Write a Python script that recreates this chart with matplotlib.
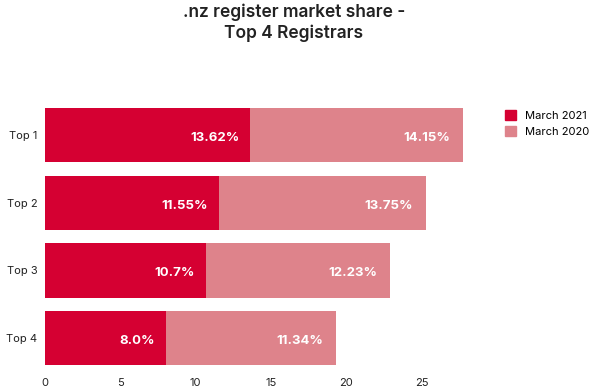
import matplotlib
matplotlib.use("Agg")
import matplotlib.pyplot as plt
from matplotlib.patches import Patch

plt.rcParams['font.family'] = ['Inter', 'DejaVu Sans']

categories = ["Top 1", "Top 2", "Top 3", "Top 4"]
march_2021 = [13.62, 11.55, 10.7, 8.0]
march_2020 = [14.15, 13.75, 12.23, 11.34]
labels_2021 = ["13.62%", "11.55%", "10.7%", "8.0%"]
labels_2020 = ["14.15%", "13.75%", "12.23%", "11.34%"]
xticks = [0, 5, 10, 15, 20, 25]

c2021 = "#D50032"
c2020 = "#DE838B"

fig = plt.figure(figsize=(6, 3.92), dpi=100)
ax = fig.add_axes([0.075, 0.051, 0.703, 0.691])

y = list(range(len(categories)))
ax.barh(y, march_2021, height=0.8, color=c2021, label="March 2021")
ax.barh(y, march_2020, left=march_2021, height=0.8, color=c2020, label="March 2020")

for i in y:
    ax.annotate(labels_2021[i], (march_2021[i], i), xytext=(-11, -3),
                textcoords='offset pixels', ha='right', va='center',
                color='white', fontsize=9.5, fontweight='bold')
    ax.annotate(labels_2020[i], (march_2021[i] + march_2020[i], i), xytext=(-13, -3),
                textcoords='offset pixels', ha='right', va='center',
                color='white', fontsize=9.5, fontweight='bold')

ax.set_xlim(0, 28)
ax.set_ylim(3.5, -0.5)
ax.set_yticks(y)
ax.set_yticklabels(categories)
ax.set_xticks(xticks)
ax.set_xticklabels([str(t) for t in xticks])
ax.tick_params(length=0, labelsize=8, colors="#222222")
ax.tick_params(axis='x', pad=4)
ax.tick_params(axis='y', pad=5.5)
for s in ax.spines.values():
    s.set_visible(False)

fig.text(0.49, 0.942, ".nz register market share -\nTop 4 Registrars", ha='center', va='center',
         fontsize=12.5, fontweight='semibold', color="#222222", linespacing=1.3)

handles = [Patch(color=c2021, label="March 2021"), Patch(color=c2020, label="March 2020")]
fig.legend(handles=handles, loc='upper left', bbox_to_anchor=(0.825, 0.745), frameon=False,
           fontsize=8, handlelength=1.0, handleheight=1.0, handletextpad=0.8, labelspacing=0.5)

fig.savefig("out.png", dpi=100)
